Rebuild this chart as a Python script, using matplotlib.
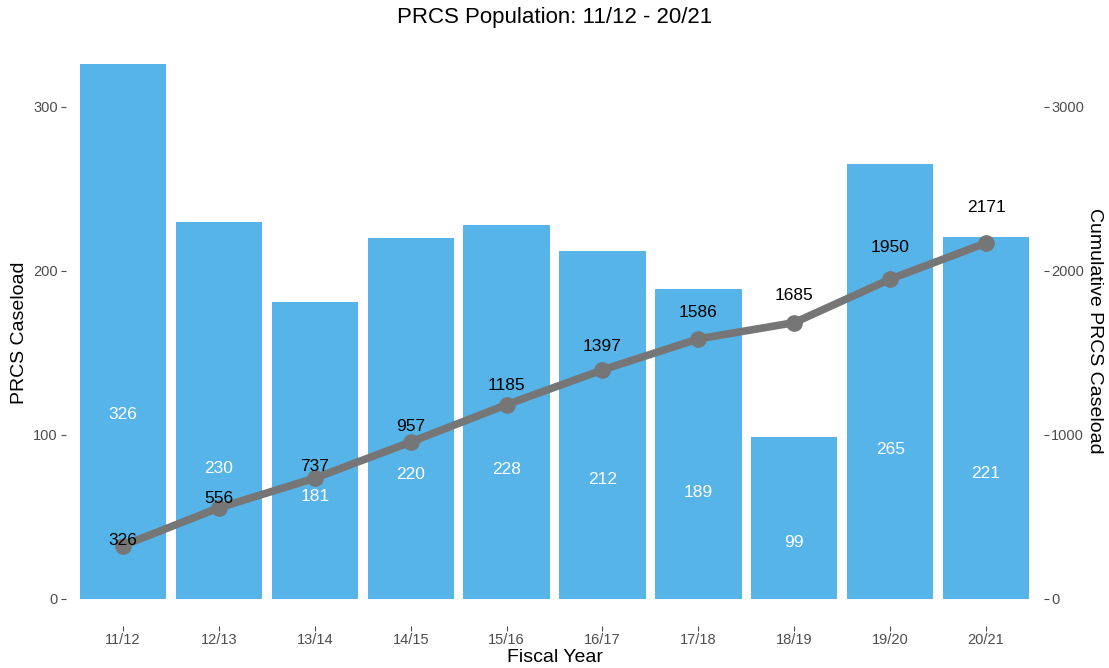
import matplotlib
matplotlib.use('Agg')
import matplotlib.pyplot as plt
import numpy as np

plt.rcParams['font.family'] = ['Liberation Sans', 'DejaVu Sans']

# data
years = ['11/12', '12/13', '13/14', '14/15', '15/16', '16/17', '17/18', '18/19', '19/20', '20/21']
caseload = [326, 230, 181, 220, 228, 212, 189, 99, 265, 221]
cumulative = [326, 556, 737, 957, 1185, 1397, 1586, 1685, 1950, 2171]

bar_color = '#56B4E9'
line_color = '#767676'
tick_color = '#4d4d4d'

fig = plt.figure(figsize=(11.09, 6.68), dpi=100)
ax = fig.add_axes([0.0591, 0.0633, 0.8819, 0.8804])
ax2 = ax.twinx()

x = np.arange(len(years))
ax.bar(x, caseload, width=0.9, color=bar_color, zorder=1)
for xi, v in zip(x, caseload):
    ax.text(xi, v * 0.345, str(v), ha='center', va='center', color='white', fontsize=12.5)

ax2.plot(x, cumulative, color=line_color, linewidth=5.5, marker='o', markersize=11,
         solid_capstyle='round', zorder=3)
for xi, v in zip(x, cumulative):
    ax2.text(xi, v * 1.1, str(v), ha='center', va='center', color='black', fontsize=12.5, zorder=4)

ymax = 342.3
ymin = -16.3
ax.set_ylim(ymin, ymax)
ax2.set_ylim(ymin * 10, ymax * 10)
ax.set_xlim(-0.6, len(years) - 0.4)

ax.set_yticks([0, 100, 200, 300])
ax2.set_yticks([0, 1000, 2000, 3000])
ax.set_xticks(x)
ax.set_xticklabels(years)

for a in (ax, ax2):
    for s in a.spines.values():
        s.set_visible(False)
    a.tick_params(colors=tick_color, labelsize=10.5, length=3.5, width=0.8, pad=2)
    a.set_facecolor('none')

# axis titles and title placed in figure pixels
fig.text(555 / 1109, 1 - 657 / 668, 'Fiscal Year', ha='center', va='center', fontsize=14)
fig.text(20 / 1109, 1 - 333 / 668, 'PRCS Caseload', ha='center', va='center', fontsize=14, rotation=90)
fig.text(1095 / 1109, 1 - 331 / 668, 'Cumulative PRCS Caseload', ha='center', va='center',
         fontsize=14, rotation=-90)
fig.text(555 / 1109, 1 - 18 / 668, 'PRCS Population: 11/12 - 20/21', ha='center', va='center', fontsize=16)

ax2.set_zorder(ax.get_zorder() + 1)

fig.savefig('out.png', dpi=100, facecolor='white')
